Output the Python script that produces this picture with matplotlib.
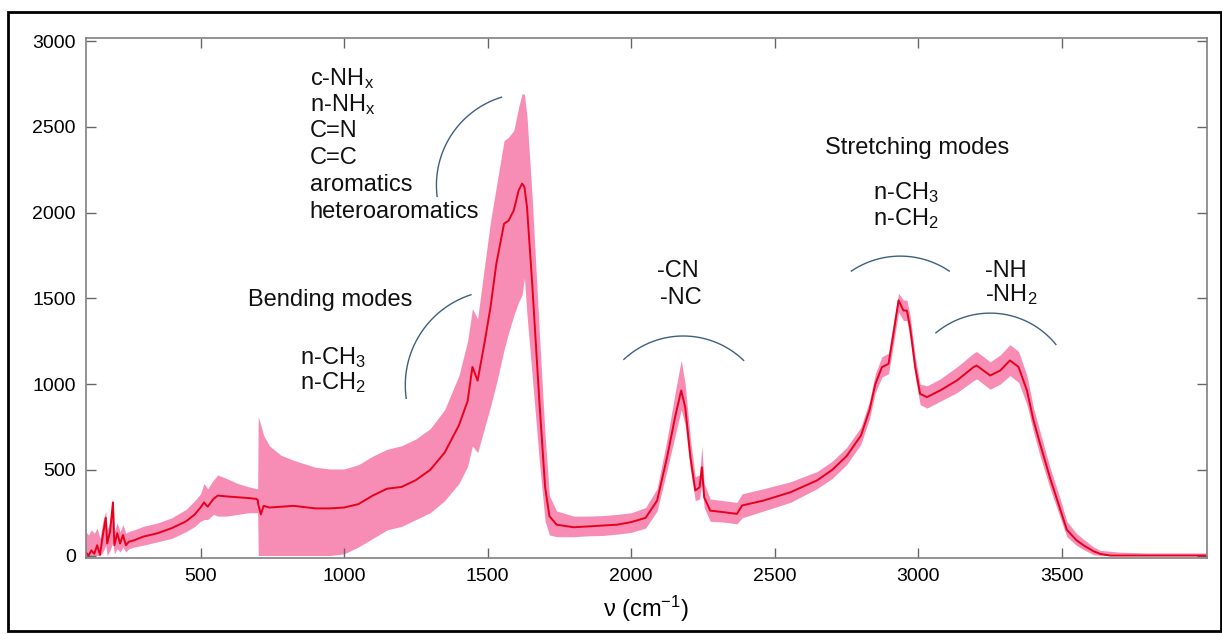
import numpy as np
import matplotlib
matplotlib.use("Agg")
import matplotlib.pyplot as plt
from matplotlib.patches import Rectangle

plt.rcParams['font.family'] = ['Liberation Sans', 'DejaVu Sans']
plt.rcParams['mathtext.fontset'] = 'custom'
plt.rcParams['mathtext.rm'] = 'Liberation Sans'
plt.rcParams['mathtext.it'] = 'Liberation Sans'

# wavenumber (cm-1), mean spectrum and the spread band around it
wavenumber = [100, 110, 120, 130, 140, 150, 160, 170, 175, 185, 195, 200, 210, 220,
              230, 240, 250, 270, 300, 350, 400, 450, 480, 500, 512, 525, 545, 560,
              590, 630, 670, 695, 699, 701, 710, 720, 740, 780, 825, 900, 950, 1000,
              1050, 1100, 1150, 1200, 1250, 1300, 1350, 1400, 1430, 1447, 1465, 1490,
              1510, 1530, 1557, 1573, 1591, 1608, 1620, 1628, 1637, 1655, 1680, 1700,
              1715, 1740, 1800, 1850, 1900, 1950, 2000, 2050, 2090, 2125, 2153, 2174,
              2188, 2206, 2223, 2238, 2246, 2254, 2275, 2322, 2368, 2386, 2461, 2554,
              2647, 2700, 2750, 2800, 2830, 2850, 2873, 2896, 2913, 2931, 2948, 2960,
              2971, 2989, 3006, 3030, 3076, 3134, 3192, 3203, 3250, 3285, 3319, 3349,
              3378, 3401, 3424, 3459, 3494, 3517, 3550, 3575, 3610, 3633, 3668, 3700,
              3800, 4000]
mean = [20, 0, 30, 10, 60, 5, 120, 220, 70, 140, 310, 60, 130, 70,
        120, 60, 80, 90, 110, 130, 160, 200, 240, 280, 310, 285, 330, 350,
        345, 340, 335, 330, 325, 300, 240, 290, 280, 285, 290, 275, 275, 280,
        300, 350, 390, 400, 440, 500, 600, 760, 900, 1100, 1020, 1250,
        1450, 1700, 1935, 1954, 2013, 2130, 2169, 2150, 2032, 1588, 900, 400,
        230, 180, 165, 170, 175, 180, 195, 220, 320, 575, 810, 963,
        865, 575, 380, 398, 515, 340, 262, 253, 243, 292, 321, 369,
        438, 500, 580, 700, 850, 1000, 1099, 1118, 1293, 1488, 1429, 1429,
        1332, 1099, 943, 924, 963, 1021, 1099, 1108, 1050, 1079, 1138, 1099,
        963, 788, 650, 450, 270, 150, 90, 60, 25, 10, 0, 0,
        0, 0]
lower = [0, 0, 0, 0, 0, 0, 20, 60, 0, 30, 80, 10, 40, 20,
         50, 20, 40, 50, 60, 80, 100, 140, 170, 200, 210, 210, 240, 230,
         230, 240, 250, 250, 250, 0, 0, 0, 0, 0, 0, 0, 0, 10,
         50, 100, 150, 170, 210, 250, 320, 420, 520, 640, 600, 750,
         870, 1000, 1200, 1300, 1400, 1480, 1520, 1620, 1400, 1050, 550, 200,
         120, 110, 110, 115, 117, 125, 135, 160, 260, 500, 700, 850,
         760, 500, 320, 330, 420, 280, 200, 195, 185, 220, 260, 310,
         390, 450, 530, 650, 800, 950, 1040, 1060, 1230, 1420, 1370, 1370,
         1270, 1040, 880, 860, 900, 950, 1020, 1030, 970, 1000, 1050, 1010,
         880, 720, 580, 390, 220, 110, 60, 35, 5, 0, 0, 0,
         0, 0]
upper = [140, 120, 150, 130, 160, 100, 200, 260, 150, 200, 330, 140, 190, 140,
         180, 130, 140, 150, 170, 190, 220, 270, 320, 360, 420, 390, 440, 470,
         450, 420, 400, 390, 390, 810, 760, 700, 640, 585, 555, 515, 505, 505,
         530, 580, 620, 640, 680, 740, 850, 1050, 1250, 1440, 1380, 1700,
         1950, 2150, 2420, 2440, 2480, 2616, 2694, 2690, 2560, 2090, 1300, 700,
         350, 260, 230, 230, 233, 240, 250, 280, 390, 680, 950, 1140,
         1000, 680, 460, 470, 640, 420, 330, 320, 310, 360, 390, 430,
         490, 550, 630, 750, 900, 1060, 1160, 1180, 1360, 1530, 1490, 1490,
         1400, 1160, 1000, 990, 1030, 1100, 1180, 1190, 1130, 1170, 1230, 1190,
         1050, 860, 720, 510, 330, 200, 130, 95, 50, 30, 25, 20,
         15, 15]

# group labels: (x, y, text, alignment)
labels = [
    (880, 2743, r'c-NH$_\mathregular{x}$', 'left'),
    (880, 2592, r'n-NH$_\mathregular{x}$', 'left'),
    (880, 2440, 'C=N', 'left'),
    (880, 2283, 'C=C', 'left'),
    (880, 2125, 'aromatics', 'left'),
    (880, 1968, 'heteroaromatics', 'left'),
    (664, 1455, 'Bending modes', 'left'),
    (848, 1117, r'n-CH$_\mathregular{3}$', 'left'),
    (848, 971, r'n-CH$_\mathregular{2}$', 'left'),
    (2091, 1624, '-CN', 'left'),
    (2100, 1467, '-NC', 'left'),
    (2676, 2341, 'Stretching modes', 'left'),
    (2843, 2079, r'n-CH$_\mathregular{3}$', 'left'),
    (2843, 1927, r'n-CH$_\mathregular{2}$', 'left'),
    (3233, 1624, '-NH', 'left'),
    (3233, 1484, r'-NH$_\mathregular{2}$', 'left'),
]

# bracket arcs: centre (x, y), radius in pixels, start/end angle in degrees
arcs = [
    (1642, 2160, 92, 107, 187),
    (1544, 994, 95, 108, 188),
    (2181, 773, 87, 46, 133),
    (2937, 1236, 87.5, 56, 124),
    (3250, 921, 84.5, 39, 130),
]

fig = plt.figure(figsize=(12.22, 6.34), dpi=100)
ax = fig.add_axes([0.0701, 0.1194, 0.9176, 0.8211])

ax.fill_between(wavenumber, lower, upper, color='#f78db5', lw=0)
ax.plot(wavenumber, mean, color='#e8001c', lw=1.4)

ax.set_xlim(100, 4005)
ax.set_ylim(-16, 3020)
ax.set_xticks([500, 1000, 1500, 2000, 2500, 3000, 3500])
ax.set_yticks([0, 500, 1000, 1500, 2000, 2500, 3000])

for s in ax.spines.values():
    s.set_color('#808080')
    s.set_linewidth(1.2)
ax.tick_params(direction='in', length=7, width=1, color='#666666',
               top=True, right=True, labelsize=14)
ax.tick_params(axis='x', pad=7)
ax.tick_params(axis='y', pad=7)
ax.set_xlabel('ν (cm$^\\mathregular{-1}$)', fontsize=17, labelpad=6)

for x, y, txt, ha in labels:
    ax.text(x, y, txt, fontsize=17, ha=ha, va='baseline', color='#111111')

# arcs drawn round in screen space, then mapped back to data
to_data = ax.transData.inverted()
for cx, cy, r, a0, a1 in arcs:
    c = ax.transData.transform((cx, cy))
    t = np.radians(np.linspace(a0, a1, 80))
    pts = np.column_stack([c[0] + r * np.cos(t), c[1] + r * np.sin(t)])
    d = to_data.transform(pts)
    ax.plot(d[:, 0], d[:, 1], color='#3f5f7f', lw=1.0)

# outer frame
fig.patches.append(Rectangle((8 / 1222, 3 / 634), 1213 / 1222, 619 / 634,
                             transform=fig.transFigure, fill=False,
                             edgecolor='black', lw=2))

fig.savefig('out.png', dpi=100)
